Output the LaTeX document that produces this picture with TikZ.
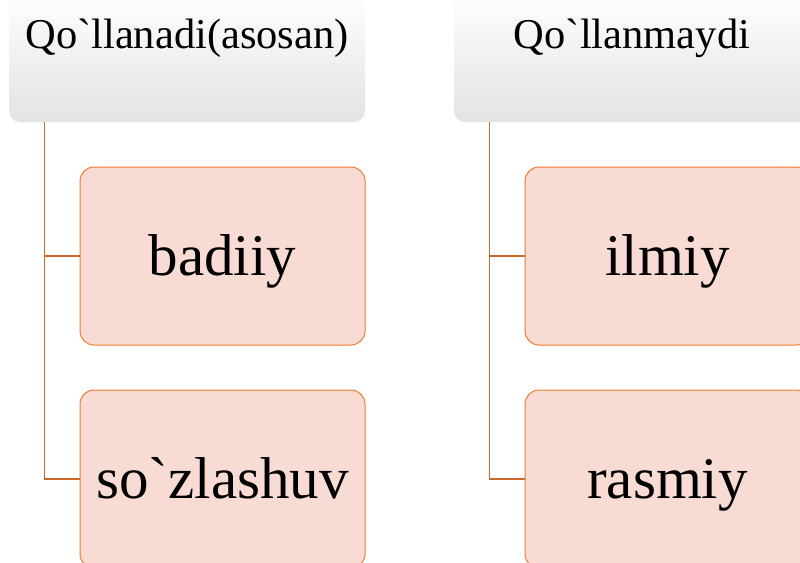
\documentclass[tikz,border=0pt]{standalone}
\usepackage{fontspec}
% TeX input ligatures off, so ` stays a grave accent
\setmainfont{Liberation Serif}[Ligatures=TeXOff]
\definecolor{boxfill}{HTML}{F8DBD3}
\definecolor{boxline}{HTML}{ED7D31}
\definecolor{linkline}{HTML}{C9692A}
\begin{document}
\begin{tikzpicture}[x=1pt,y=-1pt,
  headbox/.style={rectangle, rounded corners=11pt, inner sep=0pt,
    minimum width=356pt, minimum height=132pt,
    top color=white, middle color=white, bottom color=black!11, draw=none},
  headtext/.style={inner sep=0pt, anchor=base, font=\fontsize{42.5}{46}\selectfont},
  itembox/.style={rectangle, rounded corners=14pt, inner sep=0pt,
    minimum width=285pt, minimum height=178pt,
    text height=38pt, text depth=0pt,
    fill=boxfill, draw=boxline, line width=1pt,
    font=\fontsize{59}{62}\selectfont},
  link/.style={draw=linkline, line width=1.3pt}]
\useasboundingbox (0,0) rectangle (800,562);
\clip (0,0) rectangle (800,562);

% column headers
\node[headbox] (h1) at (187,56) {};
\node[headbox] (h2) at (632,56) {};
\node[headtext] (t1) at (187,48) {Qo`llanadi(asosan)};
\node[headtext] (t2) at (632,48) {Qo`llanmaydi};

% items
\node[itembox] (b1) at (222.5,256) {badiiy};
\node[itembox] (b2) at (222.5,479) {so`zlashuv};
\node[itembox] (b3) at (667.5,256) {ilmiy};
\node[itembox] (b4) at (667.5,479) {rasmiy};

% tree connectors
\coordinate (r1) at ([xshift=36pt]h1.south west);
\coordinate (r2) at ([xshift=36pt]h2.south west);
\draw[link] (r1) |- (b1.west);
\draw[link] (r1) |- (b2.west);
\draw[link] (r2) |- (b3.west);
\draw[link] (r2) |- (b4.west);
\end{tikzpicture}
\end{document}
